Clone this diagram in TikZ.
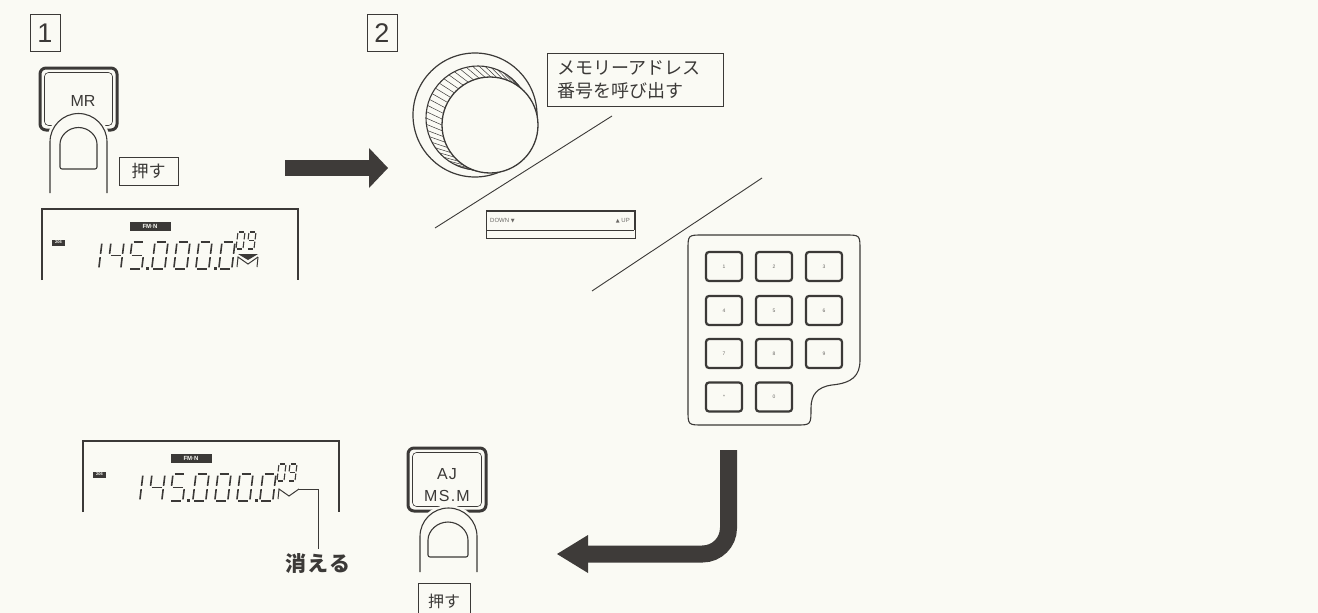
\documentclass[tikz,border=0pt]{standalone}
\usepackage{fontspec}
\setmainfont{Liberation Sans}
\newfontfamily\jpfont{Noto Sans CJK JP}
\newfontfamily\symfont{DejaVu Sans}
\usetikzlibrary{arrows.meta}

\definecolor{paper}{HTML}{FAFAF4}
\definecolor{ink}{HTML}{3B3937}
\definecolor{heavy}{HTML}{3E3B39}
\definecolor{faint}{HTML}{6A6865}

\tikzset{
  line/.style={draw=ink, line width=1pt},
  numbox/.style={draw=ink, line width=1pt, minimum width=30pt, minimum height=37pt,
    inner sep=0pt, font=\fontsize{27}{27}\selectfont, text=ink},
  tagbox/.style={draw=ink, line width=0.9pt, inner sep=0pt, text=ink},
  lcdseg/.style={draw=ink, line cap=butt},
  lcdframe/.style={draw=ink, line width=1.3pt},
  keycap/.style={draw=ink, line width=2.2pt, rounded corners=3pt, minimum width=36pt,
    minimum height=29pt, inner sep=0pt, font=\fontsize{5}{5}\selectfont, text=faint},
  button/.style={draw=ink, line width=3pt, rounded corners=6pt},
  fingerline/.style={draw=ink, line width=1.1pt},
  halo/.style={draw=paper, line width=6pt},
  fatshaft/.style={draw=heavy, line cap=butt},
}

% seven-segment pieces in a unit cell (top-left origin, y downwards)
\newcommand\segA{\draw[lcdseg] (0.12,0)--(0.88,0);}
\newcommand\segB{\draw[lcdseg] (1,0.06)--(1,0.44);}
\newcommand\segC{\draw[lcdseg] (1,0.56)--(1,0.94);}
\newcommand\segD{\draw[lcdseg] (0.12,1)--(0.88,1);}
\newcommand\segE{\draw[lcdseg] (0,0.56)--(0,0.94);}
\newcommand\segF{\draw[lcdseg] (0,0.06)--(0,0.44);}
\newcommand\segG{\draw[lcdseg] (0.12,0.5)--(0.88,0.5);}

% [line width]{x}{y}{cell width}{cell height}{segments}
\newcommand\lcddigit[6][1.6pt]{%
  \begin{scope}[shift={(#2,#3)}, xslant=0.12, x=#4pt, y=-#5pt, line width=#1]
    \foreach \s in {#6}{\csname seg\s\endcsname}
  \end{scope}}

% LCD read-out: {name}{x}{y}{1 = memory arrow lit}
\newcommand\lcdpanel[4]{%
  \begin{scope}[shift={(#2,#3)}]
    \draw[lcdframe] (0,71) -- (0,0) -- (256,0) -- (256,71);
    \node[fill=ink, minimum width=41pt, minimum height=9pt, inner sep=0pt, text=paper,
      font=\fontsize{6}{6}\selectfont\bfseries] (#1-mode) at (108,17.5) {FM·N};
    \node[fill=ink, minimum width=13pt, minimum height=6pt, inner sep=0pt, text=paper,
      font=\fontsize{4}{4}\selectfont\bfseries] (#1-tag) at (16.5,33.5) {206};
    \lcddigit{47}{33}{13}{27}{B,C}
    \lcddigit{69}{33}{13}{27}{F,G,B,C}
    \lcddigit{90}{33}{13}{27}{A,F,G,C,D}
    \fill[ink] (104,58) rectangle (106.5,60.5);
    \lcddigit{113}{33}{13}{27}{A,B,C,D,E,F}
    \lcddigit{135}{33}{13}{27}{A,B,C,D,E,F}
    \lcddigit{157}{33}{13}{27}{A,B,C,D,E,F}
    \fill[ink] (172,58) rectangle (174.5,60.5);
    \lcddigit{180}{33}{13}{27}{A,B,C,D,E,F}
    \lcddigit[1.1pt]{196}{23}{7}{17}{A,B,C,D,E,F}
    \lcddigit[1.1pt]{207}{23}{7}{17}{A,B,C,D,F,G}
    \ifnum#4=1 \fill[ink] (196,45) -- (216,45) -- (206,51) -- cycle;\fi
    \draw[ink, line width=1pt] (195,58) -- (196,48) -- (206,55) -- (216,48);
    \ifnum#4=1 \draw[ink, line width=1pt] (216,48) -- (215,58);\fi
    \coordinate (#1-mark) at (216,48);
  \end{scope}}

\begin{document}
\begin{tikzpicture}[x=1pt,y=-1pt]
\path[use as bounding box, fill=paper] (0,0) rectangle (1318,613);

% ---------- step numbers
\node[numbox] (step1) at (45,33) {1};
\node[numbox] (step2) at (382,33) {2};

% ---------- step 1: press MR
\draw[button] (40,68) rectangle (117,130);
\draw[ink, line width=0.6pt, rounded corners=4pt] (44.5,72.5) rectangle (112.5,125.5);
\node[font=\fontsize{16}{16}\selectfont, text=ink] (mrlabel) at (83,101) {MR};
\fill[paper] (50,193) -- (50,142) arc[start angle=180,end angle=0,radius=28.5pt] -- (107,193) -- cycle;
\draw[halo] (50,193) -- (50,142) arc[start angle=180,end angle=0,radius=28.5pt] -- (107,193);
\draw[fingerline] (50,193) -- (50,142) arc[start angle=180,end angle=0,radius=28.5pt] -- (107,193);
\draw[fingerline, rounded corners=2pt] (60,169) -- (60,146) arc[start angle=180,end angle=0,radius=18.5pt] -- (97,169) -- cycle;
\node[tagbox, minimum width=59pt, minimum height=28pt, font=\jpfont\fontsize{17}{17}\selectfont]
  (push1) at (148.5,171) {押す};

\lcdpanel{top}{42}{209}{1}

% ---------- arrow to step 2
\coordinate (fwd-tail) at (285,168);
\coordinate (fwd-base) at (369,168);
\coordinate (fwd-tip) at (388,168);
\draw[fatshaft, line width=16pt] (fwd-tail) -- (fwd-base);
\fill[heavy] ([yshift=-20pt]fwd-base) -- (fwd-tip) -- ([yshift=20pt]fwd-base) -- cycle;

% ---------- step 2: memory channel knob
\draw[ink, line width=1.2pt] (475,115) circle[radius=62pt];
\foreach \t in {96,103,...,346}
  \draw[ink, line width=0.5pt] ({478+52*cos(\t)},{118+52*sin(\t)}) -- ({490+48*cos(\t)},{125+48*sin(\t)});
\draw[ink, line width=1.1pt] (478,118) circle[radius=52pt];
\draw[ink, line width=1.3pt, fill=paper] (490,125) circle[radius=48pt];

\node[tagbox, minimum width=176pt, minimum height=53pt, text width=156pt, align=left,
  font=\jpfont\fontsize{18}{23}\selectfont] (memo) at (635,79.5) {メモリーアドレス\\番号を呼び出す};

\coordinate (split1-a) at (612,116);
\coordinate (split1-b) at (435,228);
\draw[line, line width=0.9pt] (split1-a) -- (split1-b);

% up/down bar
\draw[ink, line width=1pt] (486,211) rectangle (635,238);
\draw[ink, line width=2.6pt] (486,211) -- (635,211) -- (635,230);
\draw[ink, line width=0.8pt] (487,230) -- (634,230);
\node[anchor=west, inner sep=0pt, text=faint, font=\fontsize{6}{6}\selectfont] (downlbl) at (490,221)
  {DOWN {\symfont\fontsize{5}{5}\selectfont▼}};
\node[anchor=east, inner sep=0pt, text=faint, font=\fontsize{6}{6}\selectfont] (uplbl) at (630,221)
  {{\symfont\fontsize{5}{5}\selectfont▲} UP};

\coordinate (split2-a) at (592,291);
\coordinate (split2-b) at (762,178);
\draw[line, line width=0.9pt] (split2-a) -- (split2-b);

% ten-key pad
\draw[ink, line width=1.1pt] (703,235) -- (845,235) .. controls (860,235) .. (860,250)
  -- (860,360) .. controls (860,376) and (852,383) .. (832,385)
  .. controls (817,387) and (811,395) .. (811,408) .. controls (811,425) .. (796,425)
  -- (703,425) .. controls (688,425) .. (688,410) -- (688,250) .. controls (688,235) .. (703,235) -- cycle;
\foreach \r/\yy in {0/266.5,1/310.5,2/353.5}{
  \foreach \c/\xx in {0/724,1/774,2/824}{
    \pgfmathtruncatemacro\n{\r*3+\c+1}
    \node[keycap] (key\n) at (\xx,\yy) {\n};
  }
}
\node[keycap] (keystar) at (724,397) {*};
\node[keycap] (key0) at (774,397) {0};

% ---------- bent arrow back to the left
\coordinate (turn-top) at (728.5,450);
\coordinate (turn-base) at (588,554);
\coordinate (turn-tip) at (557,554);
\draw[fatshaft, line width=17pt, rounded corners=26pt] (turn-top) |- (turn-base);
\fill[heavy] ([yshift=-19pt]turn-base) -- (turn-tip) -- ([yshift=19pt]turn-base) -- cycle;

% ---------- press AJ / MS.M
\draw[button] (408,448) rectangle (486,511);
\draw[ink, line width=0.6pt, rounded corners=4pt] (412.5,452.5) rectangle (481.5,506.5);
\node[font=\fontsize{16}{16}\selectfont\addfontfeature{LetterSpace=8}, text=ink] (ajlabel) at (447,474) {AJ};
\node[font=\fontsize{16}{16}\selectfont\addfontfeature{LetterSpace=8}, text=ink] (msmlabel) at (447,496) {MS.M};
\fill[paper] (420,572) -- (420,536.5) arc[start angle=180,end angle=0,radius=28.5pt] -- (477,572) -- cycle;
\draw[halo] (420,572) -- (420,536.5) arc[start angle=180,end angle=0,radius=28.5pt] -- (477,572);
\draw[fingerline] (420,572) -- (420,536.5) arc[start angle=180,end angle=0,radius=28.5pt] -- (477,572);
\draw[fingerline, rounded corners=2pt] (428,557) -- (428,542) arc[start angle=180,end angle=0,radius=20pt] -- (468,557) -- cycle;
\node[tagbox, minimum width=52pt, minimum height=36pt, font=\jpfont\fontsize{16}{16}\selectfont]
  (push2) at (444,601) {押す};

% ---------- read-out after the write
\lcdpanel{bot}{83}{441}{0}
\node[font=\jpfont\bfseries\fontsize{21}{21}\selectfont\addfontfeature{LetterSpace=6}, text=ink] (kieru) at (318,563) {消える};
\draw[line] (bot-mark) -| (kieru.north);

\end{tikzpicture}
\end{document}
